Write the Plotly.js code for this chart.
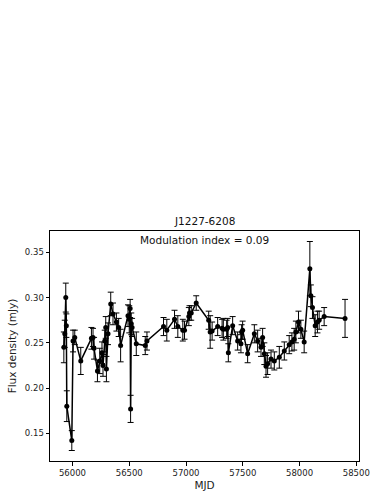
<!DOCTYPE html>
<html>
<head>
<meta charset="utf-8">
<script src="https://cdn.plot.ly/plotly-3.0.1.min.js"></script>
<style>
  html, body { margin: 0; padding: 0; background: #fff; }
  #chart { width: 382px; height: 494px; }
</style>
</head>
<body>
<div id="chart"></div>
<script>
// Light curve of J1227-6208
const mjd = [
  55924, 55932, 55941, 55946, 55950, 55994, 56005, 56020, 56073,
  56167, 56181, 56190, 56220, 56240, 56260, 56269, 56284, 56293, 56299, 56313,
  56337, 56357, 56387, 56407, 56424, 56489, 56500, 56508, 56512, 56518, 56525,
  56562, 56641, 56656, 56802, 56831, 56899, 56928, 56972, 56987,
  57025, 57031, 57046, 57090, 57200, 57213, 57230, 57279, 57318, 57329,
  57358, 57367, 57373, 57411, 57455, 57484, 57490, 57499, 57543,
  57602, 57631, 57661, 57675, 57690, 57705, 57719, 57749, 57778, 57822,
  57866, 57909, 57933, 57953, 57968, 57991, 58012, 58041,
  58091, 58100, 58114, 58138, 58158, 58173, 58217, 58401
];
const flux = [
  0.245, 0.260, 0.300, 0.269, 0.180, 0.142, 0.252, 0.256, 0.230,
  0.255, 0.256, 0.244, 0.219, 0.230, 0.239, 0.225, 0.252, 0.267, 0.221, 0.260,
  0.293, 0.282, 0.273, 0.267, 0.247, 0.280, 0.276, 0.288, 0.177, 0.271, 0.267,
  0.249, 0.247, 0.252, 0.268, 0.264, 0.276, 0.268, 0.264, 0.264,
  0.279, 0.283, 0.283, 0.294, 0.275, 0.262, 0.263, 0.268, 0.266, 0.265,
  0.265, 0.267, 0.239, 0.269, 0.252, 0.249, 0.262, 0.264, 0.238,
  0.260, 0.252, 0.245, 0.256, 0.238, 0.224, 0.227, 0.232, 0.230, 0.234,
  0.241, 0.248, 0.251, 0.254, 0.262, 0.273, 0.265, 0.251,
  0.332, 0.302, 0.289, 0.269, 0.273, 0.275, 0.279, 0.277
];
const fluxErr = [
  0.017, 0.015, 0.016, 0.013, 0.017, 0.011, 0.012, 0.008, 0.015,
  0.012, 0.010, 0.012, 0.012, 0.014, 0.012, 0.012, 0.012, 0.012, 0.014, 0.012,
  0.013, 0.012, 0.010, 0.010, 0.018, 0.012, 0.015, 0.010, 0.015, 0.012, 0.010,
  0.013, 0.010, 0.010, 0.010, 0.012, 0.010, 0.012, 0.012, 0.010,
  0.010, 0.008, 0.008, 0.008, 0.010, 0.018, 0.010, 0.010, 0.010, 0.012,
  0.010, 0.010, 0.010, 0.010, 0.010, 0.010, 0.008, 0.010, 0.010,
  0.010, 0.012, 0.010, 0.010, 0.012, 0.012, 0.012, 0.010, 0.010, 0.012,
  0.010, 0.010, 0.010, 0.012, 0.012, 0.012, 0.010, 0.012,
  0.030, 0.012, 0.012, 0.012, 0.012, 0.010, 0.010, 0.021
];
const sourceName = 'J1227-6208';
const modIndex = 0.09;

var font = 'DejaVu Sans, sans-serif';

var trace = {
  x: mjd,
  y: flux,
  error_y: { type: 'data', array: fluxErr, visible: true, color: '#000', thickness: 1, width: 3 },
  type: 'scatter',
  mode: 'lines+markers',
  line: { color: '#000', width: 1.5 },
  marker: { color: '#000', size: 5 }
};

var layout = {
  width: 382,
  height: 494,
  margin: { l: 50, r: 23, t: 231, b: 33 },
  paper_bgcolor: '#fff',
  plot_bgcolor: '#fff',
  showlegend: false,
  font: { family: font, size: 8.5, color: '#222' },
  xaxis: {
    range: [55802, 58524],
    dtick: 500, tick0: 56000, tickformat: 'd',
    ticks: 'outside', ticklen: 3.5, tickcolor: '#000',
    showline: true, mirror: true, linecolor: '#000', linewidth: 1,
    showgrid: false, zeroline: false,
    title: { text: 'MJD', font: { size: 10.5 }, standoff: 4 }
  },
  yaxis: {
    range: [0.1194, 0.3736],
    dtick: 0.05, tick0: 0.15, tickformat: '.2f',
    ticks: 'outside', ticklen: 3.5, tickcolor: '#000',
    showline: true, mirror: true, linecolor: '#000', linewidth: 1,
    showgrid: false, zeroline: false,
    title: { text: 'Flux density (mJy)', font: { size: 10.5 }, standoff: 6 }
  },
  annotations: [
    {
      text: sourceName, xref: 'paper', yref: 'paper', x: 0.5, y: 1,
      yanchor: 'bottom', yshift: 2, showarrow: false,
      font: { size: 10.5, color: '#111' }
    },
    {
      text: 'Modulation index = ' + modIndex.toFixed(2), xref: 'paper', yref: 'paper',
      x: 0.5, y: 1, yanchor: 'top', yshift: -1, showarrow: false,
      font: { size: 10.5, color: '#111' }
    }
  ]
};

Plotly.newPlot('chart', [trace], layout, { displayModeBar: false, staticPlot: true });
</script>
</body>
</html>
